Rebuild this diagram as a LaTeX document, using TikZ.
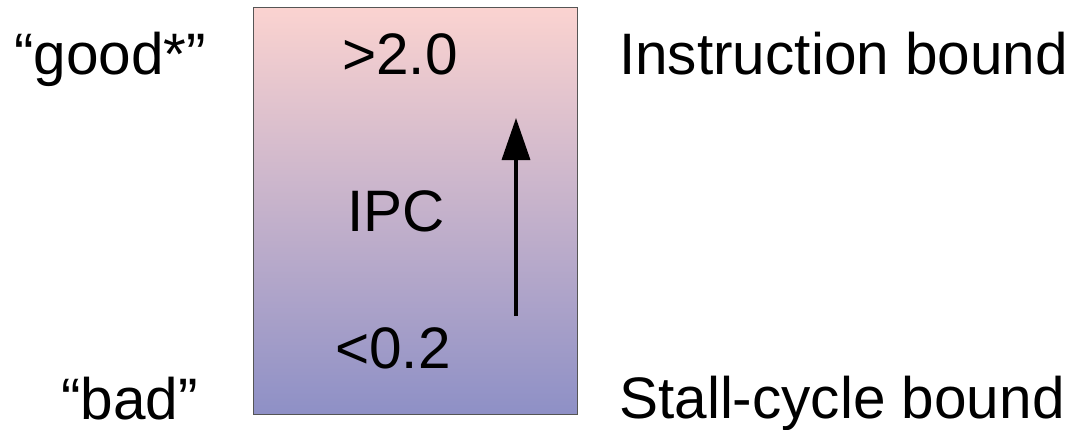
\documentclass[tikz,border=0pt]{standalone}
\usepackage{fontspec}
\setmainfont{Liberation Sans}
\usetikzlibrary{arrows.meta}
\definecolor{hitop}{HTML}{FBD3D0}
\definecolor{lobot}{HTML}{8E90C6}
\definecolor{frame}{HTML}{555555}
\tikzset{
  lbl/.style={inner sep=0pt, anchor=base west, font=\fontsize{58.5}{70}\selectfont},
  mid/.style={inner sep=0pt, anchor=base, font=\fontsize{58.5}{70}\selectfont},
  ipcscale/.style={draw=frame, line width=1pt, top color=hitop, bottom color=lobot,
    minimum width=324pt, minimum height=407pt, inner sep=0pt},
  trend/.style={line width=3.5pt, -{Triangle[length=42pt,width=28pt]}}
}
\begin{document}
\begin{tikzpicture}[x=1pt,y=-1pt]
  \useasboundingbox (0,0) rectangle (1070,429);
  % IPC scale box
  \node[ipcscale] (ipcbox) at (415,210.5) {};
  \node[mid] (high) at (400,74) {>2.0};
  \node[mid] (ipc) at (396,231) {IPC};
  \node[mid] (low) at (393,368) {<0.2};
  % upward arrow inside the box
  \coordinate (tail) at (516,316);
  \coordinate (tip) at (516,118);
  \draw[trend] (tail) -- (tip);
  % side labels
  \node[lbl] (good) at (14,74) {“good*”};
  \node[lbl] (bad) at (61,419) {“bad”};
  \node[lbl] (instr) at (619,74) {Instruction bound};
  \node[lbl] (stall) at (619,418) {Stall-cycle bound};
\end{tikzpicture}
\end{document}
